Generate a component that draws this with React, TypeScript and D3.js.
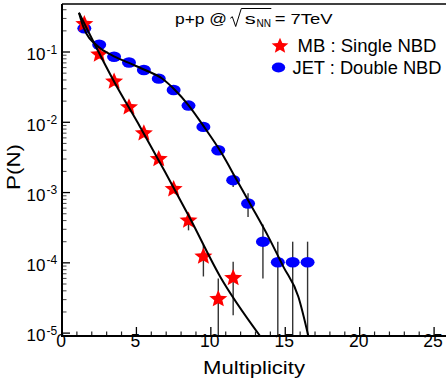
import React from 'react';
import * as d3 from 'd3';

const W = 446;
const H = 383;
const margin = { top: 4, right: 0, bottom: 47, left: 62 };

// MB : single NBD (red stars)
const mbN = [1.5, 2.5, 3.5, 4.5, 5.5, 6.5, 7.5, 8.5, 9.5, 10.5, 11.5];
const mbP = [0.25, 0.092, 0.038, 0.0164, 0.007, 0.003, 0.00112, 0.0004, 0.000123, 3.05e-5, 6.1e-5];
const mbErrN = [8.5, 9.5, 10.5, 11.5];
const mbErrLo = [2.9e-4, 6.4e-5, 0, 1.8e-5];
const mbErrHi = [5e-4, 1.8e-4, 6.0e-5, 1.04e-4];

// JET : double NBD (blue dots)
const jetN = [1.5, 2.5, 3.5, 4.5, 5.5, 6.5, 7.5, 8.5, 9.5, 10.5, 11.5, 12.5, 13.5, 14.5, 15.5, 16.5];
const jetP = [0.217, 0.127, 0.0857, 0.071, 0.0555, 0.0418, 0.0288, 0.0173, 0.0086, 0.004, 0.0015, 0.0007, 0.0002, 1.02e-4, 1.02e-4, 1.02e-4];
const jetErrN = [11.5, 12.5, 13.5, 14.5, 15.5, 16.5];
const jetErrLo = [1.2e-3, 4.5e-4, 6.0e-5, 0, 0, 0];
const jetErrHi = [1.8e-3, 9.8e-4, 3.5e-4, 2e-4, 2e-4, 2e-4];

// fitted curves
const mbFitN = [1.14, 3.56, 5.24, 8.6, 10.62, 13.31];
const mbFitP = [0.362, 0.0359, 0.00865, 0.00043, 6.4e-5, 9.1e-6];
const jetFitN = [1.14, 1.43, 2.44, 3.34, 4.46, 5.58, 6.7, 7.59, 8.49, 9.61, 10.73, 11.74, 12.75, 13.86, 14.87, 15.88, 16.55];
const jetFitP = [0.362, 0.229, 0.119, 0.0906, 0.0705, 0.0555, 0.0423, 0.0288, 0.0176, 0.00822, 0.00362, 0.00151, 0.00063, 0.000236, 8.83e-5, 3.3e-5, 9.1e-6];

const xTicks = [0, 5, 10, 15, 20, 25];
const yExps = [-5, -4, -3, -2, -1];

const xMax = 25.8;
const yMin = 9.1e-6;
const yMax = 0.482;

const FONT = '"Liberation Sans", Arial, Helvetica, sans-serif';

function starPath(cx: number, cy: number, rx: number, ry: number) {
  const pts: string[] = [];
  for (let i = 0; i < 10; i++) {
    const a = -Math.PI / 2 + (i * Math.PI) / 5;
    const r = i % 2 === 0 ? 1 : 0.45;
    pts.push(`${cx + Math.cos(a) * r * rx},${cy + Math.sin(a) * r * ry}`);
  }
  return 'M' + pts.join('L') + 'Z';
}

export default function App() {
  const x = d3.scaleLinear().domain([0, xMax]).range([margin.left, W - margin.right]);
  const y = d3.scaleLog().domain([yMin, yMax]).range([H - margin.bottom, margin.top]);
  const yb = H - margin.bottom;

  const yc = (v: number) => y(Math.max(v, yMin));

  const line = d3
    .line<[number, number]>()
    .x(d => x(d[0]))
    .y(d => y(d[1]))
    .curve(d3.curveMonotoneX);

  const mbFit = mbFitN.map((n, i) => [n, mbFitP[i]] as [number, number]);
  const jetFit = jetFitN.map((n, i) => [n, jetFitP[i]] as [number, number]);

  // minor ticks
  const xMinor = d3.range(1, Math.floor(xMax) + 1).filter(v => v % 5 !== 0);
  const yMinor: number[] = [];
  for (let e = -6; e <= 0; e++) {
    for (let k = 2; k <= 9; k++) {
      const v = k * Math.pow(10, e);
      if (v > yMin && v < yMax) yMinor.push(v);
    }
  }

  return (
    <svg width={W} height={H} style={{ position: 'absolute', left: 0, top: 0, background: '#fff' }} fontFamily={FONT}>
      <defs>
        <clipPath id="plot">
          <rect x={margin.left} y={margin.top} width={W - margin.left} height={yb - margin.top} />
        </clipPath>
      </defs>
      <rect x={0} y={0} width={W} height={H} fill="#fff" />

      {/* ticks */}
      {xTicks.filter(t => t > 0).map(t => (
        <line key={'xt' + t} x1={x(t)} x2={x(t)} y1={yb} y2={yb - 9} stroke="#000" strokeWidth={1.3} />
      ))}
      {xMinor.map(t => (
        <line key={'xm' + t} x1={x(t)} x2={x(t)} y1={yb} y2={yb - 4.5} stroke="#222" strokeWidth={1.2} />
      ))}
      {yExps.map(e => (
        <line key={'yt' + e} x1={margin.left} x2={margin.left + 8} y1={y(Math.pow(10, e))} y2={y(Math.pow(10, e))} stroke="#000" strokeWidth={1.3} />
      ))}
      {yMinor.map((v, i) => (
        <line key={'ym' + i} x1={margin.left} x2={margin.left + 4.5} y1={y(v)} y2={y(v)} stroke="#555" strokeWidth={1.1} />
      ))}

      {/* error bars */}
      <g stroke="#333" strokeWidth={1.4}>
        {mbErrN.map((n, i) => (
          <line key={'me' + i} x1={x(n)} x2={x(n)} y1={yc(mbErrLo[i])} y2={yc(mbErrHi[i])} />
        ))}
        {jetErrN.map((n, i) => (
          <line key={'je' + i} x1={x(n)} x2={x(n)} y1={yc(jetErrLo[i])} y2={yc(jetErrHi[i])} />
        ))}
      </g>

      {/* markers */}
      {jetN.map((n, i) => (
        <ellipse key={'jp' + i} cx={x(n)} cy={y(jetP[i])} rx={7} ry={5.2} fill="#0000ff" />
      ))}
      {mbN.map((n, i) => (
        <path key={'mp' + i} d={starPath(x(n), y(mbP[i]), 9.5, 9)} fill="#ff0000" />
      ))}

      {/* fit curves */}
      <g clipPath="url(#plot)" fill="none" stroke="#000" strokeWidth={2}>
        <path d={line(mbFit) || ''} />
        <path d={line(jetFit) || ''} />
      </g>

      {/* frame */}
      <line x1={margin.left} x2={W} y1={margin.top} y2={margin.top} stroke="#000" strokeWidth={1.5} />
      <line x1={margin.left} x2={margin.left} y1={margin.top} y2={yb + 1} stroke="#000" strokeWidth={2} />
      <line x1={margin.left} x2={W} y1={yb} y2={yb} stroke="#000" strokeWidth={2} />

      {/* tick labels */}
      {xTicks.map(t => (
        <text key={'xl' + t} x={x(t) - 1} y={346.5} fontSize={17.5} textAnchor="middle" fill="#000">
          {t}
        </text>
      ))}
      {yExps.map(e => {
        const ty = y(Math.pow(10, e));
        return (
          <g key={'yl' + e} fill="#000">
            <text x={45.5} y={ty + 8.3} fontSize={17} textAnchor="end">10</text>
            <text x={46.5} y={ty + 1.5} fontSize={12}>{'-' + Math.abs(e)}</text>
          </g>
        );
      })}

      {/* axis titles */}
      <text x={203} y={374} fontSize={17.5} textLength={102} lengthAdjust="spacingAndGlyphs" fill="#000">
        Multiplicity
      </text>
      <text transform="translate(20,167) rotate(-90)" fontSize={18} textAnchor="middle" textLength={46} lengthAdjust="spacingAndGlyphs" fill="#000">
        P(N)
      </text>

      {/* title */}
      <g fill="#000">
        <text x={175} y={23.5} fontSize={15} textLength={52} lengthAdjust="spacingAndGlyphs">p+p @</text>
        <path d="M230.3,18.3L232.3,16.7L235.7,26.5L241.3,8.5L271.3,8.5" fill="none" stroke="#000" strokeWidth={1} />
        <text x={244.7} y={23.5} fontSize={15} textLength={11} lengthAdjust="spacingAndGlyphs">s</text>
        <text x={256.5} y={26.5} fontSize={10.5} textLength={14.5} lengthAdjust="spacingAndGlyphs">NN</text>
        <text x={274.7} y={23.5} fontSize={15} textLength={58} lengthAdjust="spacingAndGlyphs">= 7TeV</text>
      </g>

      {/* legend */}
      <path d={starPath(280, 46, 8.8, 8.3)} fill="#ff0000" />
      <text x={297.5} y={51.7} fontSize={17.5} textLength={139} lengthAdjust="spacingAndGlyphs" fill="#000">
        MB : Single NBD
      </text>
      <ellipse cx={278.5} cy={67.5} rx={6.7} ry={5} fill="#0000ff" />
      <text x={292.5} y={73.8} fontSize={17.5} textLength={149} lengthAdjust="spacingAndGlyphs" fill="#000">
        JET : Double NBD
      </text>
    </svg>
  );
}
